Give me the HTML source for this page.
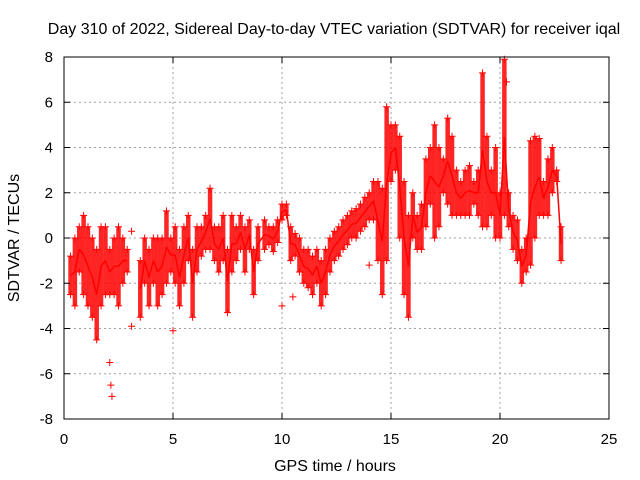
<!DOCTYPE html>
<html><head><meta charset="utf-8"><style>
body{margin:0;background:#fff}
svg{display:block;font-family:"Liberation Sans",sans-serif}
</style></head><body>
<svg id="chart" width="640" height="480" viewBox="0 0 640 480">
<text x="334" y="34" text-anchor="middle" font-size="16" fill="#000">Day 310 of 2022, Sidereal Day-to-day VTEC variation (SDTVAR) for receiver iqal</text>
<g id="grid"></g>
<g id="marks"></g>
<rect x="64" y="57" width="545" height="362" fill="none" stroke="#000" stroke-width="1"/>
<g id="ticks"></g>
<text x="335" y="471" text-anchor="middle" font-size="16">GPS time / hours</text>
<text transform="translate(19,238) rotate(-90)" text-anchor="middle" font-size="16">SDTVAR / TECUs</text>
</svg>
<script>
const xTicks=[0,5,10,15,20,25];
const yTicks=[-8,-6,-4,-2,0,2,4,6,8];
const times=[0.3,0.5,0.7,0.9,1.1,1.3,1.5,1.7,1.9,2.1,2.3,2.5,2.7,2.9,3.5,3.7,3.9,4.1,4.3,4.5,4.7,4.9,5.1,5.3,5.5,5.7,5.9,6.1,6.3,6.5,6.7,6.9,7.1,7.3,7.5,7.7,7.9,8.1,8.3,8.5,8.7,8.9,9.2,9.4,9.6,9.8,10.0,10.2,10.4,10.6,10.8,11.0,11.2,11.4,11.6,11.8,12.0,12.2,12.4,12.6,12.8,13.0,13.2,13.4,13.6,13.8,14.0,14.2,14.4,14.6,14.8,15.0,15.2,15.4,15.6,15.8,16.0,16.2,16.4,16.6,16.8,17.0,17.2,17.4,17.6,17.8,18.0,18.2,18.4,18.6,18.8,19.0,19.2,19.4,19.6,19.8,20.0,20.2,20.4,20.6,20.8,21.0,21.2,21.4,21.6,21.8,22.0,22.2,22.4,22.6,22.8];
const lows=[-2.5,-3,-1.5,-2.5,-3,-3.5,-4.5,-3,-2.5,-2.5,-2.5,-3,-2,-1.5,-3.5,-2,-3,-2,-3,-2.5,-2,-1.5,-2,-3,-2,-1,-3.5,-1.5,-0.8,-0.5,-0.5,-1,-1.5,-1,-3.3,-1.5,-1,-0.5,-1.5,-0.5,-2.5,-1,-0.5,-0.3,-0.6,-0.2,0.8,1,-1,-0.8,-1.5,-2,-2.2,-2.5,-2,-3,-2.5,-1.5,-1,-0.8,-0.5,-0.3,0,0,0.3,0.5,0.8,0.8,-1,-2.5,-1,2.5,3,0,-2.5,-3.5,0,-0.5,-0.5,0.5,1.5,0,0.5,2,1.5,1,1,1,1,1,1.5,1,0.5,0.5,1,0,0,1,0.5,-0.5,-1,-2,-1.5,-1.2,0,1,1,1,2,2.5,-1];
const highs=[-0.8,0,0.5,1,0.5,0,-0.5,0.5,0.5,-0.5,0,0.5,0,-0.5,-1,0,-0.5,0,0,0,1.2,0,0.5,-0.5,0.5,1,-0.5,0.5,0.5,1,2.2,0.5,0.5,1,-0.5,1,0.5,1,0.5,0.8,-0.5,0.5,0.8,0.5,0.5,0.8,1.5,1.5,0.5,0.2,0,-0.5,-0.5,-0.8,-0.5,-1,-0.5,0,0.3,0.5,0.8,1,1.2,1.3,1.5,1.8,2,2.5,2.5,2.2,5.8,5,5,4.5,2.5,1,2,1,1.5,3.5,4,5,4,3.5,5.3,4.5,3,2.5,3,3.2,2.5,3,7.3,4.5,3,4,2,7.9,2,1,0.8,-0.5,0,4.3,4.5,4.4,2.5,3.5,4,3,0.5];
const outT=[2.1,2.15,2.2,3.1,3.1,5.0,10.0,10.5,14.0,20.3];
const outV=[-5.5,-6.5,-7,0.3,-3.9,-4.1,-3,-2.6,-1.2,6.9];
const xs=t=>64+t*(545/25);
const ys=v=>238-v*(362/16);
const NS="http://www.w3.org/2000/svg";
const grid=document.getElementById('grid'),ticks=document.getElementById('ticks'),marks=document.getElementById('marks');
function mk(tag,attrs,parent){const e=document.createElementNS(NS,tag);for(const k in attrs)e.setAttribute(k,attrs[k]);parent.appendChild(e);return e;}
xTicks.forEach(t=>{const x=xs(t);
 if(t>0&&t<25){const g=mk('line',{x1:x,y1:57,x2:x,y2:419,stroke:'#a0a0a0','stroke-dasharray':'2,3'},grid);
 
 }
 mk('line',{x1:x,y1:419,x2:x,y2:413,stroke:'#000'},ticks);mk('line',{x1:x,y1:57,x2:x,y2:63,stroke:'#000'},ticks);
 const l=mk('text',{x:x,y:444,'text-anchor':'middle','font-size':'15'},ticks);l.textContent=t;
 
 });
yTicks.forEach(v=>{const y=ys(v);
 if(v>-8&&v<8){const g=mk('line',{x1:64,y1:y,x2:609,y2:y,stroke:'#a0a0a0','stroke-dasharray':'2,3'},grid);
 
 }
 mk('line',{x1:64,y1:y,x2:70,y2:y,stroke:'#000'},ticks);mk('line',{x1:609,y1:y,x2:603,y2:y,stroke:'#000'},ticks);
 const l=mk('text',{x:53,y:y+5,'text-anchor':'end','font-size':'15'},ticks);l.textContent=v;
 
 });
function plus(x,y){const p=mk('path',{d:`M${x-3.5},${y}h7M${x},${y-3.5}v7`,stroke:'#f00','stroke-width':1},marks);
 
 }
times.forEach((t,i)=>{const x=xs(t),y1=ys(highs[i]),y2=ys(lows[i]);
 const b=mk('line',{x1:x,y1:y1,x2:x,y2:y2,stroke:'#f00','stroke-width':4.5,opacity:0.85},marks);
 
 
 plus(x,y1);plus(x,y2);
 if(i>0&&times[i]-times[i-1]<0.35){const c=mk('line',{x1:xs(times[i-1]),y1:ys((lows[i-1]+highs[i-1])/2),x2:x,y2:ys((lows[i]+highs[i])/2),stroke:'#f00','stroke-width':1.5},marks);
 
 }
});
outT.forEach((t,i)=>plus(xs(t),ys(outV[i])));
</script>
</body></html>
